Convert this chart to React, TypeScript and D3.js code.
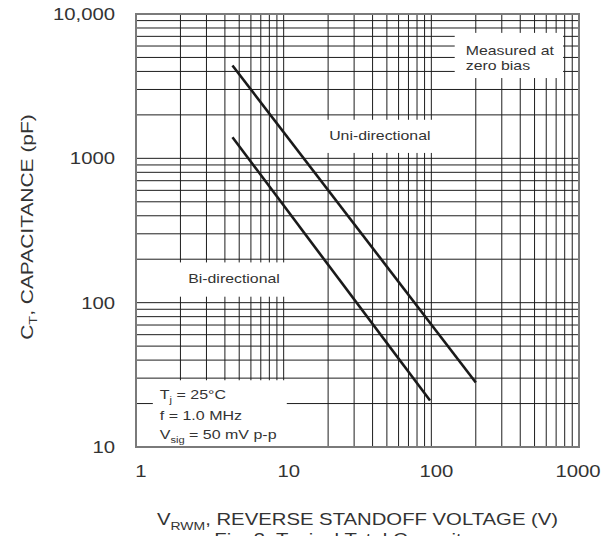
import React from "react";
import * as d3 from "d3";

// Axis ticks
const V_TICKS = [1, 10, 100, 1000];
const V_TICK_LABELS = ["1", "10", "100", "1000"];
const C_TICKS = [10, 100, 1000, 10000];
const C_TICK_LABELS = ["10", "100", "1000", "10,000"];

// Typical total capacitance curves (V, pF)
const UNI_V = [4.5, 200];
const UNI_C = [4400, 28];
const BI_V = [4.5, 98];
const BI_C = [1400, 21];

const W = 614;
const H = 536;
const M = { left: 136, right: 35, top: 14, bottom: 89 };

const FONT = "'Liberation Sans', Arial, Helvetica, sans-serif";
const TEXT = "#333";

function minorGrid(lo: number, hi: number): number[] {
  const out: number[] = [];
  for (let d = lo; d < hi; d *= 10) {
    for (let k = 1; k < 10; k++) out.push(d * k);
  }
  out.push(hi);
  return out;
}

function Stretch({ x, y, sx, rotate = 0, children, anchor = "start", size = 13 }: any) {
  return (
    <g transform={`translate(${x},${y}) rotate(${rotate}) scale(${sx},1)`}>
      <text
        x={0}
        y={0}
        textAnchor={anchor}
        fontFamily={FONT}
        fontSize={size}
        fill={TEXT}
      >
        {children}
      </text>
    </g>
  );
}

export default function App() {
  const x = d3.scaleLog().domain([1, 1000]).range([M.left, W - M.right]);
  const y = d3.scaleLog().domain([10, 10000]).range([H - M.bottom, M.top]);
  const [x0, x1] = x.range();
  const [y0, y1] = y.range();

  const vGrid = minorGrid(1, 1000);
  const cGrid = minorGrid(10, 10000);

  const line = d3
    .line<[number, number]>()
    .x((d) => x(d[0]))
    .y((d) => y(d[1]));
  const uni: [number, number][] = UNI_V.map((v, i) => [v, UNI_C[i]]);
  const bi: [number, number][] = BI_V.map((v, i) => [v, BI_C[i]]);

  // White panels behind the annotations, in data units
  const boxes = [
    { v: [19, 114], c: [1850, 1090] },
    { v: [1, 11], c: [190, 110] },
    { v: [144, 780], c: [7400, 3600] },
    { v: [1.3, 10.5], c: [29, 10] },
  ].map((b) => ({
    left: x(b.v[0]),
    right: x(b.v[1]),
    top: y(b.c[0]),
    bottom: y(b.c[1]),
  }));
  const [uniBox, biBox, measBox, condBox] = boxes;

  return (
    <svg
      width={W}
      height={H}
      style={{ position: "absolute", left: 0, top: 0, background: "#fff" }}
    >
      <rect x={0} y={0} width={W} height={H} fill="#fff" />
      {/* grid */}
      <g stroke="#1e1e1e" strokeWidth={1}>
        {vGrid.map((v, i) => (
          <line key={"v" + i} x1={x(v)} x2={x(v)} y1={y1} y2={y0} />
        ))}
        {cGrid.map((c, i) => (
          <line key={"c" + i} x1={x0} x2={x1} y1={y(c)} y2={y(c)} />
        ))}
      </g>
      {/* annotation panels */}
      {boxes.map((b, i) => (
        <rect
          key={"b" + i}
          x={b.left}
          y={b.top}
          width={b.right - b.left}
          height={b.bottom - b.top}
          fill="#fff"
        />
      ))}
      {/* frame */}
      <rect
        x={x0}
        y={y1}
        width={x1 - x0}
        height={y0 - y1}
        fill="none"
        stroke="#7a7a7a"
        strokeWidth={2}
      />
      {/* curves */}
      <path d={line(uni) || ""} fill="none" stroke="#1a1a1a" strokeWidth={2.6} />
      <path d={line(bi) || ""} fill="none" stroke="#1a1a1a" strokeWidth={2.6} />

      {/* annotation text */}
      <Stretch x={uniBox.left + 55} y={uniBox.top + 20} sx={1.22} anchor="middle">
        Uni-directional
      </Stretch>
      <Stretch x={biBox.left + 98} y={biBox.top + 21} sx={1.22} anchor="middle">
        Bi-directional
      </Stretch>
      <Stretch x={measBox.left + 11} y={measBox.top + 22} sx={1.22}>
        Measured at
      </Stretch>
      <Stretch x={measBox.left + 11} y={measBox.top + 37} sx={1.22}>
        zero bias
      </Stretch>
      <Stretch x={condBox.left + 7} y={condBox.top + 19} sx={1.23}>
        T<tspan fontSize={9} dy={4}>j</tspan>
        <tspan dy={-4}> = 25°C</tspan>
      </Stretch>
      <Stretch x={condBox.left + 7} y={condBox.top + 40} sx={1.23}>
        f = 1.0 MHz
      </Stretch>
      <Stretch x={condBox.left + 7} y={condBox.top + 59} sx={1.23}>
        V<tspan fontSize={9} dy={4}>sig</tspan>
        <tspan dy={-4}> = 50 mV p-p</tspan>
      </Stretch>

      {/* tick labels */}
      {C_TICKS.map((c, i) => (
        <Stretch key={"ct" + i} x={115} y={y(c) + 6} sx={1.27} anchor="end" size={16}>
          {C_TICK_LABELS[i]}
        </Stretch>
      ))}
      {V_TICKS.map((v, i) => (
        <Stretch
          key={"vt" + i}
          x={x(v) + (i === V_TICKS.length - 1 ? -1 : 5)}
          y={477}
          sx={1.27}
          anchor="middle"
          size={16}
        >
          {V_TICK_LABELS[i]}
        </Stretch>
      ))}

      {/* axis titles */}
      <Stretch x={33} y={227} rotate={-90} sx={1.31} anchor="middle" size={16}>
        C<tspan fontSize={11} dy={4}>T</tspan>
        <tspan dy={-4}>, CAPACITANCE (pF)</tspan>
      </Stretch>
      <Stretch x={157} y={525} sx={1.27} size={16}>
        V<tspan fontSize={11} dy={5}>RWM</tspan>
        <tspan dy={-5}>, REVERSE STANDOFF VOLTAGE (V)</tspan>
      </Stretch>
      <Stretch x={360} y={545} sx={1.27} anchor="middle" size={16}>
        Fig. 3. Typical Total Capacitance
      </Stretch>
    </svg>
  );
}
